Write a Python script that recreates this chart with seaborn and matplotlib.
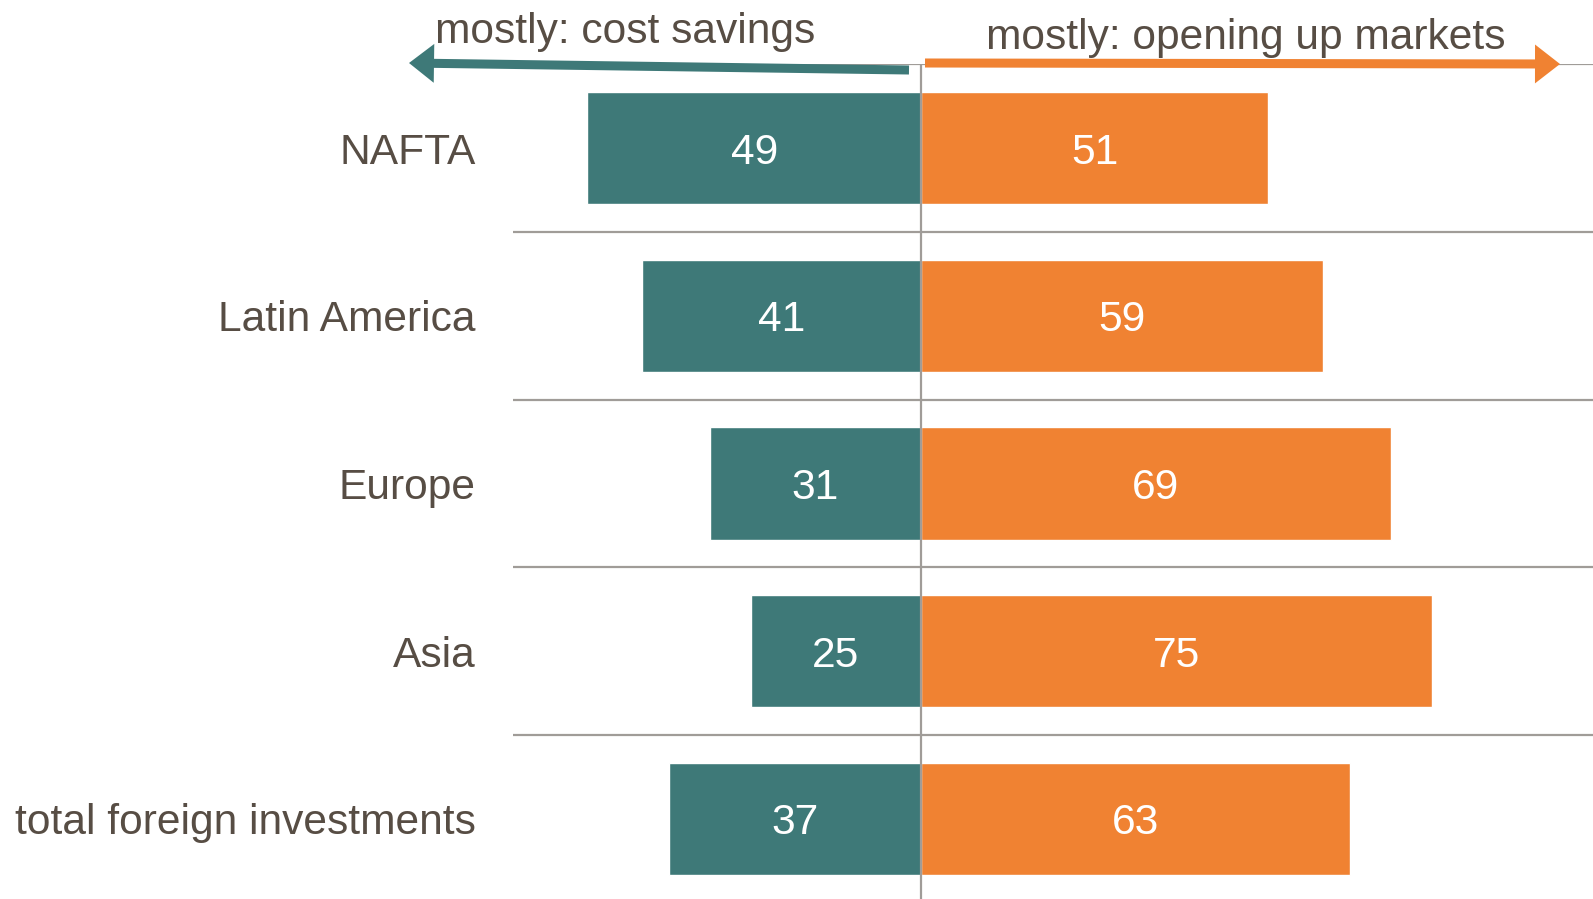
import matplotlib
matplotlib.use("Agg")
import matplotlib.pyplot as plt
from matplotlib.patches import FancyArrowPatch
import pandas as pd
import seaborn as sns

regions = ["NAFTA", "Latin America", "Europe", "Asia", "total foreign investments"]
cost_savings = [49, 41, 31, 25, 37]
opening_markets = [51, 59, 69, 75, 63]
header_left = "mostly: cost savings"
header_right = "mostly: opening up markets"

TEAL = "#3E7978"
ORANGE = "#F08232"
TEXT = "#574D44"
GRID = "#A09C98"

sns.set_theme(style="white")
plt.rcParams["font.family"] = ["Liberation Sans", "DejaVu Sans"]

W, H, DPI = 1593, 899, 100
fig = plt.figure(figsize=(W / DPI, H / DPI), dpi=DPI)
ax = fig.add_axes([513 / W, -0.0042, 1080 / W, 0.9328])

df = pd.DataFrame({"region": regions,
                   "cost": [-v for v in cost_savings],
                   "markets": opening_markets})

sns.barplot(data=df, x="cost", y="region", orient="h", color=TEAL,
            width=0.67, saturation=1, ax=ax, zorder=2)
sns.barplot(data=df, x="markets", y="region", orient="h", color=ORANGE,
            width=0.67, saturation=1, ax=ax, zorder=2)

ax.set_xlim(-59.91, 98.68)
ax.set_ylim(len(regions) - 0.5, -0.5)
ax.set_xlabel("")
ax.set_ylabel("")
ax.set_xticks([])
for s in ax.spines.values():
    s.set_visible(False)

fs = 30.6
ax.tick_params(axis="y", length=0, pad=27, labelsize=fs, labelcolor=TEXT)
for lab in ax.get_yticklabels():
    lab.set_verticalalignment("center_baseline")

# row separators and the zero line
for k in range(len(regions)):
    ax.axhline(k - 0.5, color=GRID, lw=1.6, zorder=1)
ax.axvline(0, color=GRID, lw=1.6, zorder=3)

# value labels inside the bars
for i, (c, m) in enumerate(zip(cost_savings, opening_markets)):
    ax.text(-c / 2, i, f"{c}", ha="center", va="center_baseline", color="white", fontsize=fs, zorder=4)
    ax.text(m / 2, i, f"{m}", ha="center", va="center_baseline", color="white", fontsize=fs, zorder=4)

# direction arrows and headers
def px(x, y):
    return (x / W, 1 - y / H)

style = "simple,head_length=18,head_width=28,tail_width=6.5"
fig.add_artist(FancyArrowPatch(px(909, 70), px(409, 63), transform=fig.transFigure,
                               arrowstyle=style, mutation_scale=1, color=TEAL,
                               shrinkA=0, shrinkB=0, lw=0, zorder=5))
fig.add_artist(FancyArrowPatch(px(925, 63), px(1560, 64), transform=fig.transFigure,
                               arrowstyle=style, mutation_scale=1, color=ORANGE,
                               shrinkA=0, shrinkB=0, lw=0, zorder=5))

fig.text(435 / W, 1 - 32 / H, header_left, ha="left", va="center", fontsize=fs, color=TEXT)
fig.text(1246 / W, 1 - 38.5 / H, header_right, ha="center", va="center", fontsize=fs, color=TEXT)

fig.savefig("out.png", dpi=DPI, facecolor="white")
